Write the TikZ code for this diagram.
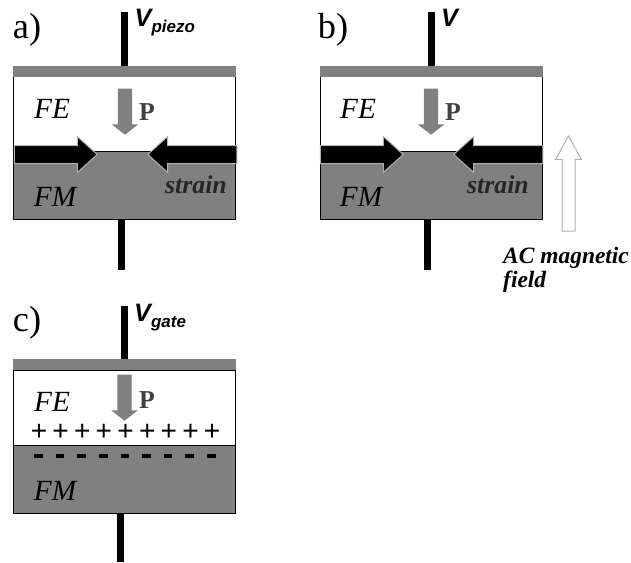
\documentclass[tikz,border=0pt]{standalone}
\usepackage{fontspec}
\setmainfont{Liberation Serif}
\setsansfont{Liberation Sans}
\usetikzlibrary{positioning,shapes.arrows}
\definecolor{layer}{RGB}{128,128,128}
\definecolor{rim}{RGB}{178,178,178}
\definecolor{ptext}{RGB}{64,64,64}
\tikzset{
  febox/.style={draw=black,line width=.3mm,fill=white,outer sep=0pt,inner sep=0pt,
                minimum width=66.7mm,minimum height=22.6mm},
  fmbox/.style={febox,fill=layer,minimum height=20.4mm},
  plate/.style={fill=layer,outer sep=0pt,inner sep=0pt,minimum width=66.9mm,minimum height=3.3mm},
  wire/.style={line width=2.1mm,draw=black},
  parrow/.style={single arrow,fill=layer,inner ysep=0pt,inner xsep=2.1mm,shape border rotate=270,anchor=tip,
                 single arrow head indent=0pt,single arrow head extend=1.8mm,minimum height=13.8mm,single arrow tip angle=104},
  strain/.style={single arrow,fill=black,draw=rim,line width=.3mm,inner xsep=0pt,inner ysep=2.55mm,anchor=tip,
                 single arrow head indent=0pt,single arrow head extend=2.7mm,minimum height=24.9mm,single arrow tip angle=84},
  acarrow/.style={parrow,fill=white,draw=rim,line width=.3mm,shape border rotate=90,minimum height=28.5mm,
                  inner xsep=1.8mm,single arrow head extend=1.95mm,single arrow tip angle=58},
  panel/.style={font=\fontsize{31}{32}\selectfont,inner sep=0pt},
  layername/.style={font=\fontsize{25}{26}\selectfont\itshape,inner sep=0pt},
  plabel/.style={font=\fontsize{22}{24}\selectfont\bfseries,text=ptext,inner sep=0pt},
  strainlabel/.style={font=\fontsize{22}{24}\selectfont\bfseries\itshape,text=black!85,inner sep=0pt},
  vlabel/.style={font=\sffamily\bfseries\itshape,anchor=base west,inner sep=0pt},
  aclabel/.style={font=\fontsize{20}{22}\selectfont\bfseries\itshape,anchor=base west,inner sep=0pt},
  chargeplus/.style={font=\sffamily\fontsize{24}{24}\selectfont,inner sep=0pt},
  chargeminus/.style={fill=black,inner sep=0pt,minimum width=2.6mm,minimum height=1.4mm}
}
\newcommand{\vname}[2]{\fontsize{21.5}{22}\selectfont #1\raisebox{-.5ex}{\fontsize{14.5}{15}\selectfont #2}}
\begin{document}
\begin{tikzpicture}[x=.3mm,y=-.3mm,node distance=0pt]
  \useasboundingbox (0,0) rectangle (631,562);
  % panel a
  \node[febox] (feA) at (124.75,114.25) {};
  \node[plate,above=of feA] (plateA) {};
  \node[fmbox,below=of feA] (fmA) {};
  \coordinate (topA) at (124.5,12);
  \coordinate (botA) at (121.5,270);
  \draw[wire] (topA)--(topA |- plateA.north);
  \draw[wire] (botA)--(botA |- fmA.south);
  \node[panel] (nameA) at (27,30) {a)};
  \node[vlabel] (vA) at (134.5,26) {\vname{V}{piezo}};
  \node[layername] (textfeA) at (52,109) {FE};
  \node[layername] (textfmA) at (55,197) {FM};
  \node[parrow] (pA) at (125,135) {};
  \node[plabel] (textpA) at (147,112) {P};
  \node[strain] (leftA) at (98,154.5) {};
  \node[strain,shape border rotate=180,minimum height=26.7mm] (rightA) at (147,154.5) {};
  \node[strainlabel] (textstrainA) at (196,185) {strain};

  % panel b
  \node[febox] (feB) at (431.25,114.25) {};
  \node[plate,above=of feB] (plateB) {};
  \node[fmbox,below=of feB] (fmB) {};
  \coordinate (topB) at (431,12);
  \coordinate (botB) at (427.5,270);
  \draw[wire] (topB)--(topB |- plateB.north);
  \draw[wire] (botB)--(botB |- fmB.south);
  \node[panel] (nameB) at (333,30) {b)};
  \node[vlabel] (vB) at (441,26) {\vname{V}{}};
  \node[layername] (textfeB) at (358,109) {FE};
  \node[layername] (textfmB) at (361,197) {FM};
  \node[parrow] (pB) at (431,135) {};
  \node[plabel] (textpB) at (453,112) {P};
  \node[strain] (leftB) at (404,154.5) {};
  \node[strain,shape border rotate=180,minimum height=26.7mm] (rightB) at (453,154.5) {};
  \node[strainlabel] (textstrainB) at (498,185) {strain};
  \node[acarrow] (acB) at (568.5,135) {};
  \node[aclabel] (textacB) at (503,263) {AC magnetic};
  \node[aclabel] (textfieldB) at (503,287) {field};

  % panel c
  \node[febox] (feC) at (124.5,408) {};
  \node[plate,above=of feC] (plateC) {};
  \node[fmbox,below=of feC] (fmC) {};
  \coordinate (topC) at (124,306);
  \coordinate (botC) at (120.5,562);
  \draw[wire] (topC)--(topC |- plateC.north);
  \draw[wire] (botC)--(botC |- fmC.south);
  \node[panel] (nameC) at (27,323) {c)};
  \node[vlabel] (vC) at (134,321) {\vname{V}{gate}};
  \node[layername] (textfeC) at (52,402) {FE};
  \node[layername] (textfmC) at (55,491) {FM};
  \node[parrow] (pC) at (124.5,421) {};
  \node[plabel] (textpC) at (147,400) {P};
  \foreach \i in {0,...,8} {
    \node[chargeplus] (plus\i) at (39+21.65*\i,432) {+};
    \node[chargeminus] (minus\i) at (38.5+21.6*\i,456) {};
  }
\end{tikzpicture}
\end{document}
